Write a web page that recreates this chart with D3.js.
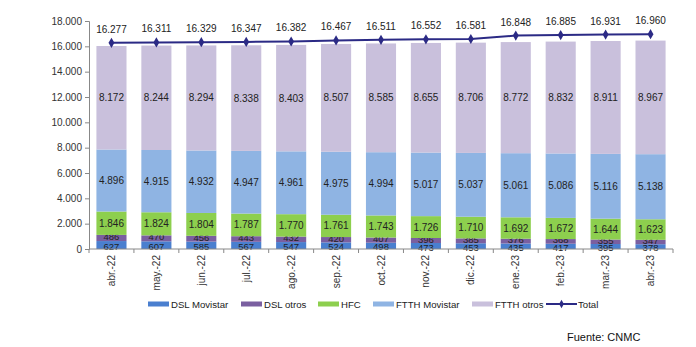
<!DOCTYPE html>
<html>
<head>
<meta charset="utf-8">
<script src="https://cdn.jsdelivr.net/npm/d3@7"></script>
<style>
  body { margin: 0; background: #fff; }
  svg text { font-family: "Liberation Sans", Arial, sans-serif; }
</style>
</head>
<body>
<svg id="svg" width="696" height="347"></svg>
<script>
// datos (miles de lineas)
const meses = ["abr.-22","may.-22","jun.-22","jul.-22","ago.-22","sep.-22","oct.-22","nov.-22","dic.-22","ene.-23","feb.-23","mar.-23","abr.-23"];
const dslMovistar = [627,607,585,567,547,524,498,473,453,435,417,395,378];
const dslOtros = [486,470,456,443,432,420,407,396,385,376,368,355,347];
const hfc = [1846,1824,1804,1787,1770,1761,1743,1726,1710,1692,1672,1644,1623];
const ftthMovistar = [4896,4915,4932,4947,4961,4975,4994,5017,5037,5061,5086,5116,5138];
const ftthOtros = [8172,8244,8294,8338,8403,8507,8585,8655,8706,8772,8832,8911,8967];
const total = [16277,16311,16329,16347,16382,16467,16511,16552,16581,16848,16885,16931,16960];
const yTicks = [0,2000,4000,6000,8000,10000,12000,14000,16000,18000];

const series = [
  {name: "DSL Movistar", values: dslMovistar, color: "#4a7fcf"},
  {name: "DSL otros", values: dslOtros, color: "#7a5fa0"},
  {name: "HFC", values: hfc, color: "#8dcf4e"},
  {name: "FTTH Movistar", values: ftthMovistar, color: "#8fb4e3"},
  {name: "FTTH otros", values: ftthOtros, color: "#c9c0dc"}
];
const lineColor = "#2b2a85";

const fmt = v => d3.format(",")(v).replace(/,/g, ".");

const svg = d3.select("#svg");
const margin = {top: 21, left: 89, right: 23, bottom: 98};
const W = 696, H = 347;

const x = d3.scaleBand()
  .domain(meses)
  .range([margin.left, W - margin.right])
  .paddingInner(0.33)
  .paddingOuter(0.165);

const y = d3.scaleLinear()
  .domain([0, 18000])
  .range([H - margin.bottom, margin.top]);

// apilado
const rows = meses.map((m, i) => {
  const r = {mes: m};
  series.forEach(s => r[s.name] = s.values[i]);
  return r;
});
const stack = d3.stack().keys(series.map(s => s.name))(rows);

const layers = svg.append("g").selectAll("g")
  .data(stack)
  .enter().append("g")
  .attr("fill", (d, i) => series[i].color);

layers.selectAll("rect")
  .data(d => d)
  .enter().append("rect")
  .attr("x", d => x(d.data.mes))
  .attr("width", x.bandwidth())
  .attr("y", d => y(d[1]))
  .attr("height", d => y(d[0]) - y(d[1]));

// los segmentos DSL son finos: separo un poco sus etiquetas
const nudge = {"DSL Movistar": 1, "DSL otros": -1.5};
layers.selectAll("text")
  .data(d => d.map(p => ({p: p, key: d.key})))
  .enter().append("text")
  .attr("x", d => x(d.p.data.mes) + x.bandwidth() / 2)
  .attr("y", d => (y(d.p[0]) + y(d.p[1])) / 2 + 3.5 + (nudge[d.key] || 0))
  .attr("text-anchor", "middle")
  .attr("font-size", d => nudge[d.key] ? 9.5 : 10)
  .attr("fill", "#222")
  .text(d => fmt(d.p.data[d.key]));

// ejes
const yAxis = g => g
  .attr("transform", `translate(${margin.left},0)`)
  .call(d3.axisLeft(y).tickValues(yTicks).tickSize(4).tickFormat(fmt))
  .call(g => g.select(".domain").attr("stroke", "#888"))
  .call(g => g.selectAll(".tick line").attr("stroke", "#888"))
  .call(g => g.selectAll("text").attr("font-size", 10).attr("fill", "#333")
    .attr("font-family", "Liberation Sans, Arial, sans-serif"));
svg.append("g").call(yAxis);

const xBase = y(0);
const xg = svg.append("g");
xg.append("line")
  .attr("x1", margin.left).attr("x2", W - margin.right)
  .attr("y1", xBase).attr("y2", xBase)
  .attr("stroke", "#888");
const bounds = meses.map(m => x(m) - x.step() * x.paddingInner() / 2).concat([W - margin.right]);
xg.selectAll(".tk")
  .data(bounds)
  .enter().append("line")
  .attr("x1", d => d).attr("x2", d => d)
  .attr("y1", xBase).attr("y2", xBase + 4)
  .attr("stroke", "#888");
xg.selectAll(".lbl")
  .data(meses)
  .enter().append("text")
  .attr("transform", d => `translate(${x(d) + x.bandwidth() / 2 + 3.5},${xBase + 6}) rotate(-90)`)
  .attr("text-anchor", "end")
  .attr("font-size", 10)
  .attr("fill", "#333")
  .text(d => d);

// linea total
const line = d3.line()
  .x((d, i) => x(meses[i]) + x.bandwidth() / 2)
  .y(d => y(d));
svg.append("path")
  .datum(total)
  .attr("fill", "none")
  .attr("stroke", lineColor)
  .attr("stroke-width", 2)
  .attr("d", line);
svg.selectAll(".mk")
  .data(total)
  .enter().append("path")
  .attr("d", d3.symbol(d3.symbolDiamond, 30))
  .attr("transform", (d, i) => `translate(${x(meses[i]) + x.bandwidth() / 2},${y(d)})`)
  .attr("fill", lineColor);
svg.selectAll(".tl")
  .data(total)
  .enter().append("text")
  .attr("x", (d, i) => x(meses[i]) + x.bandwidth() / 2)
  .attr("y", d => y(d) - 10)
  .attr("text-anchor", "middle")
  .attr("font-size", 10)
  .attr("fill", "#222")
  .text(d => fmt(d));

// leyenda
const legX = [148, 241, 318, 373, 472];
const legY = 304;
const leg = svg.append("g");
series.forEach((s, i) => {
  leg.append("rect").attr("x", legX[i]).attr("y", legY - 2.5).attr("width", 21).attr("height", 5).attr("fill", s.color);
  leg.append("text").attr("x", legX[i] + 23).attr("y", legY + 3.5).attr("font-size", 9.6).attr("fill", "#222").text(s.name);
});
leg.append("line").attr("x1", 546).attr("x2", 577).attr("y1", legY).attr("y2", legY).attr("stroke", lineColor).attr("stroke-width", 2);
leg.append("path").attr("d", d3.symbol(d3.symbolDiamond, 20)).attr("transform", `translate(561.5,${legY})`).attr("fill", lineColor);
leg.append("text").attr("x", 578).attr("y", legY + 3.5).attr("font-size", 9.6).attr("fill", "#222").text("Total");

svg.append("text").attr("x", 567).attr("y", 341).attr("font-size", 11).attr("fill", "#111").text("Fuente: CNMC");
</script>
</body>
</html>
